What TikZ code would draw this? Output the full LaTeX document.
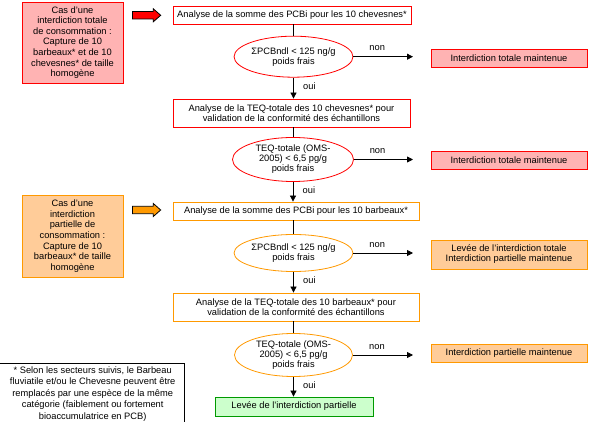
\documentclass[tikz,border=0pt]{standalone}
\usepackage{fontspec}
\setmainfont{Liberation Sans}
\usetikzlibrary{shapes.geometric,arrows.meta}
\definecolor{rouge}{HTML}{FF0000}
\definecolor{rose}{HTML}{FFB3B3}
\definecolor{orangeb}{HTML}{FF9900}
\definecolor{peche}{HTML}{FFCC99}
\definecolor{vertb}{HTML}{009900}
\definecolor{vertc}{HTML}{CCFFCC}
\tikzset{
  boite/.style={rectangle, draw, line width=0.8pt, inner sep=0pt, minimum height=18pt, align=center, fill=white},
  test/.style={ellipse, draw, line width=0.8pt, inner sep=0pt, align=center, fill=white},
  fleche/.style={-{Triangle[length=6pt,width=6pt]}, line width=0.8pt},
}
% grosse fleche a gauche des analyses
\newcommand\grossefleche[2]{
  \draw[fill=#2, line width=0.8pt] (132.5,#1-3.7) -- (153.3,#1-3.7) -- (153.3,#1-6.5)
    -- (160.7,#1) -- (153.3,#1+6.5) -- (153.3,#1+3.7) -- (132.5,#1+3.7) -- cycle;
}
\begin{document}
\begin{tikzpicture}[x=1pt, y=-1pt, font=\fontsize{9.3}{10}\selectfont]
  \useasboundingbox (0,0) rectangle (590,422);
  \clip (0,0) rectangle (590,422);
  % cas
  \node[boite, draw=rouge, fill=rose, minimum width=101pt, minimum height=81pt,
        font=\fontsize{9.3}{10.6}\selectfont] (castot) at (72.5,42.5)
    {Cas d'une\\interdiction totale\\de consommation :\\Capture de 10\\barbeaux* et de 10\\chevesnes* de taille\\homogène};
  \node[boite, draw=orangeb, fill=peche, minimum width=101pt, minimum height=82pt,
        font=\fontsize{9.3}{10.6}\selectfont] (caspar) at (72.5,236)
    {Cas d'une\\interdiction\\partielle de\\consommation :\\Capture de 10\\barbeaux* de taille\\homogène};
  \grossefleche{15.3}{red}
  \grossefleche{210}{orangeb}
  % chevesnes
  \node[boite, draw=rouge, minimum width=238pt] (a1) at (292,15)
    {Analyse de la somme des PCBi pour les 10 chevesnes*};
  \node[test, draw=rouge, minimum width=117pt, minimum height=41pt] (e1) at (293.5,56.7)
    {ΣPCBndl < 125 ng/g\\poids frais};
  \node[boite, draw=rouge, minimum width=237pt, minimum height=28pt] (a2) at (291.5,113)
    {Analyse de la TEQ-totale des 10 chevesnes* pour\\validation de la conformité des échantillons};
  \node[test, draw=rouge, minimum width=121pt, minimum height=44pt] (e2) at (293,159.5)
    {TEQ-totale (OMS-\\2005) < 6,5 pg/g\\poids frais};
  \node[boite, draw=rouge, fill=rose, minimum width=156pt] (r1) at (509,58)
    {Interdiction totale maintenue};
  \node[boite, draw=rouge, fill=rose, minimum width=156pt] (r2) at (509,160)
    {Interdiction totale maintenue};
  % barbeaux
  \node[boite, draw=orangeb, minimum width=246pt] (b1) at (296,211)
    {Analyse de la somme des PCBi pour les 10 barbeaux*};
  \node[test, draw=orangeb, minimum width=118pt, minimum height=37pt] (e3) at (293.5,253)
    {ΣPCBndl < 125 ng/g\\poids frais};
  \node[boite, draw=orangeb, minimum width=246pt, minimum height=28pt] (b2) at (296,307)
    {Analyse de la TEQ-totale des 10 barbeaux* pour\\validation de la conformité des échantillons};
  \node[test, draw=orangeb, minimum width=118pt, minimum height=43pt] (e4) at (293.5,355)
    {TEQ-totale (OMS-\\2005) < 6,5 pg/g\\poids frais};
  \node[boite, draw=orangeb, fill=peche, minimum width=156pt, minimum height=29pt] (r3) at (509,254.5)
    {Levée de l'interdiction totale\\Interdiction partielle maintenue};
  \node[boite, draw=orangeb, fill=peche, minimum width=156pt] (r4) at (509,353)
    {Interdiction partielle maintenue};
  \node[boite, draw=vertb, fill=vertc, minimum width=158pt, minimum height=19pt] (fin) at (294,406.5)
    {Levée de l'interdiction partielle};
  % renvoi
  \draw[line width=0.8pt] (-5,363) rectangle (184,430);
  \node[align=center, font=\fontsize{9.3}{11.5}\selectfont] (renvoi) at (92.7,393.7)
    {* Selon les secteurs suivis, le Barbeau\\fluviatile et/ou le Chevesne peuvent être\\remplacés par une espèce de la même\\catégorie (faiblement ou fortement\\bioaccumulatrice en PCB)};
  % bouts des fleches non
  \coordinate (n1) at (e1.east -| 413,0);
  \coordinate (n2) at (e2.east -| 413,0);
  \coordinate (n3) at (e3.east -| 413,0);
  \coordinate (n4) at (e4.east -| 413,0);
  \draw[line width=0.8pt] (e1.north |- a1.south) -- (e1.north);
  \draw[line width=0.8pt] (e2.north |- a2.south) -- (e2.north);
  \draw[line width=0.8pt] (e3.north |- b1.south) -- (e3.north);
  \draw[line width=0.8pt] (e4.north |- b2.south) -- (e4.north);
  \draw[fleche] (e1.south) -- node[pos=.4, right=6pt] {oui} (e1.south |- a2.north);
  \draw[fleche] (e2.south) -- node[pos=.4, right=6pt] {oui} (e2.south |- b1.north);
  \draw[fleche] (e3.south) -- node[pos=.4, right=6pt] {oui} (e3.south |- b2.north);
  \draw[fleche] (e4.south) -- node[pos=.4, right=6pt] {oui} (e4.south |- fin.north);
  \draw[fleche] (e1.east) -- node[pos=.4, above=2pt] {non} (n1);
  \draw[fleche] (e2.east) -- node[pos=.4, above=2pt] {non} (n2);
  \draw[fleche] (e3.east) -- node[pos=.4, above=2pt] {non} (n3);
  \draw[fleche] (e4.east) -- node[pos=.4, above=2pt] {non} (n4);
\end{tikzpicture}
\end{document}
